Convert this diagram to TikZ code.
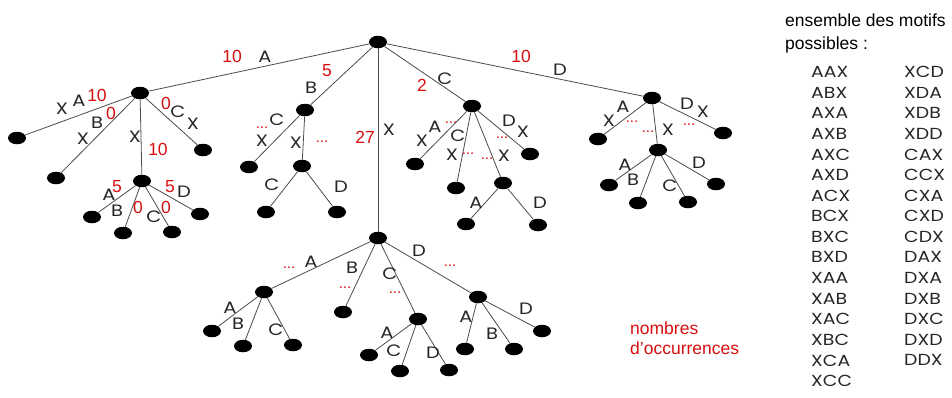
\documentclass[tikz,border=0pt]{standalone}
\usepackage{fontspec}
\setmainfont{Liberation Sans}
\newfontfamily\lettrfam{Poppins}[FakeStretch=1.18]
\usetikzlibrary{shapes.geometric}
\definecolor{occred}{RGB}{215,15,15}
\definecolor{edgegray}{RGB}{75,75,75}
\begin{document}
\begin{tikzpicture}[x=1pt,y=-1pt,
  nd/.style={ellipse, fill=black, minimum width=18pt, minimum height=12.5pt, inner sep=0pt},
  edge/.style={draw=edgegray, line width=0.8pt},
  lt/.style={font=\lettrfam\fontsize{16.5}{16.5}\selectfont, inner sep=0pt, text=black!85},
  nm/.style={font=\fontsize{17.5}{17.5}\selectfont, text=occred, inner sep=0pt},
  dt/.style={font=\fontsize{15}{15}\selectfont, text=occred, inner sep=0pt},
  lst/.style={font=\lettrfam\fontsize{16}{16}\selectfont, inner sep=0pt, anchor=west, text=black!85},
  txt/.style={font=\fontsize{17.5}{17.5}\selectfont, inner sep=0pt, anchor=base west}]
\useasboundingbox (0,0) rectangle (952,397);

% ---------- tree nodes ----------
\node[nd] (r) at (378,42) {};
\node[nd] (a) at (140,93) {};
\node[nd] (b) at (305,110) {};
\node[nd] (x) at (378,238) {};
\node[nd] (c) at (472,106) {};
\node[nd] (d) at (652,98) {};
% under a
\node[nd] (aXA) at (17,138) {};
\node[nd] (aXB) at (56,178) {};
\node[nd] (aX) at (142,181) {};
\node[nd] (aCX) at (203,150) {};
\node[nd] (aXa) at (92,217) {};
\node[nd] (aXb) at (123,233) {};
\node[nd] (aXc) at (172,232) {};
\node[nd] (aXd) at (200,214) {};
% under b
\node[nd] (bCX) at (249,167) {};
\node[nd] (bX) at (302,166) {};
\node[nd] (bXc) at (266,212) {};
\node[nd] (bXd) at (337,212) {};
% under c
\node[nd] (cXA) at (415,164) {};
\node[nd] (cXC) at (456,188) {};
\node[nd] (cX) at (503,183) {};
\node[nd] (cDX) at (530,154) {};
\node[nd] (cXa) at (466,224) {};
\node[nd] (cXd) at (538,225) {};
% under d
\node[nd] (dXA) at (598,139) {};
\node[nd] (dX) at (658,150) {};
\node[nd] (dDX) at (723,133) {};
\node[nd] (dXa) at (609,185) {};
\node[nd] (dXb) at (638,203) {};
\node[nd] (dXc) at (688,202) {};
\node[nd] (dXd) at (716,184) {};
% under x
\node[nd] (xA) at (264,292) {};
\node[nd] (xB) at (343,312) {};
\node[nd] (xC) at (418,319) {};
\node[nd] (xD) at (478,297) {};
\node[nd] (xAa) at (212,331) {};
\node[nd] (xAb) at (243,346) {};
\node[nd] (xAc) at (293,345) {};
\node[nd] (xCa) at (369,355) {};
\node[nd] (xCc) at (400,371) {};
\node[nd] (xCd) at (449,370) {};
\node[nd] (xDa) at (465,349) {};
\node[nd] (xDb) at (514,349) {};
\node[nd] (xDd) at (542,331) {};

% ---------- edges ----------
\foreach \p/\q in {r/a, r/b, r/x, r/c, r/d,
  a/aXA, a/aXB, a/aX, a/aCX, aX/aXa, aX/aXb, aX/aXc, aX/aXd,
  b/bCX, b/bX, bX/bXc, bX/bXd,
  c/cXA, c/cXC, c/cX, c/cDX, cX/cXa, cX/cXd,
  d/dXA, d/dX, d/dDX, dX/dXa, dX/dXb, dX/dXc, dX/dXd,
  x/xA, x/xB, x/xC, x/xD, xA/xAa, xA/xAb, xA/xAc,
  xC/xCa, xC/xCc, xC/xCd, xD/xDa, xD/xDb, xD/xDd}
  \draw[edge] (\p) -- (\q);

% ---------- labels on root edges ----------
\node[nm] (n1) at (232,56) {10};  \node[lt] (l1) at (265,57) {A};
\node[nm] (n2) at (327,71) {5};   \node[lt] (l2) at (311,88) {B};
\node[nm] (n3) at (365,137) {27}; \node[lt] (l3) at (389,130) {X};
\node[nm] (n4) at (422,85) {2};   \node[lt] (l4) at (445,79) {C};
\node[nm] (n5) at (521,56) {10};  \node[lt] (l5) at (560,70) {D};

% ---------- labels under a ----------
\node[lt] (la1) at (62,109) {X}; \node[lt] (la2) at (79,101) {A}; \node[nm] (na1) at (97,95) {10};
\node[lt] (la3) at (97,123) {B}; \node[lt] (la4) at (83,139) {X}; \node[nm] (na2) at (111,113) {0};
\node[lt] (la5) at (135,137) {X}; \node[nm] (na3) at (158,149) {10};
\node[nm] (na4) at (166,103) {0}; \node[lt] (la6) at (178,112) {C}; \node[lt] (la7) at (193,124) {X};
\node[nm] (na5) at (117,187) {5}; \node[lt] (la8) at (109,195) {A};
\node[lt] (la9) at (117,211) {B}; \node[nm] (na6) at (138,207) {0};
\node[lt] (la10) at (154,217) {C}; \node[nm] (na7) at (166,207) {0};
\node[nm] (na8) at (170,187) {5}; \node[lt] (la11) at (184,192) {D};

% ---------- labels under b ----------
\node[lt] (lb1) at (277,120) {C}; \node[dt] (db1) at (262,128) {...}; \node[lt] (lb2) at (262,141) {X};
\node[lt] (lb3) at (296,143) {X}; \node[dt] (db2) at (322,142) {...};
\node[lt] (lb4) at (272,185) {C}; \node[lt] (lb5) at (341,187) {D};

% ---------- labels under c ----------
\node[lt] (lc1) at (435,127) {A}; \node[lt] (lc2) at (422,141) {X}; \node[dt] (dc1) at (451,123) {...};
\node[lt] (lc3) at (458,136) {C}; \node[lt] (lc4) at (452,155) {X}; \node[dt] (dc2) at (468,154) {...};
\node[lt] (lc5) at (504,156) {X}; \node[dt] (dc3) at (487,159) {...};
\node[lt] (lc6) at (509,121) {D}; \node[lt] (lc7) at (523,132) {X}; \node[dt] (dc4) at (502,138) {...};
\node[lt] (lc8) at (476,203) {A}; \node[lt] (lc9) at (540,203) {D};

% ---------- labels under d ----------
\node[lt] (ld1) at (623,107) {A}; \node[lt] (ld2) at (609,121) {X}; \node[dt] (dd1) at (632,122) {...};
\node[lt] (ld3) at (668,130) {X}; \node[dt] (dd2) at (648,132) {...};
\node[lt] (ld4) at (687,104) {D}; \node[lt] (ld5) at (703,112) {X}; \node[dt] (dd3) at (689,125) {...};
\node[lt] (ld6) at (625,165) {A}; \node[lt] (ld7) at (633,180) {B};
\node[lt] (ld8) at (670,186) {C}; \node[lt] (ld9) at (699,163) {D};

% ---------- labels under x ----------
\node[lt] (lx1) at (311,262) {A}; \node[dt] (dx1) at (289,268) {...};
\node[lt] (lx2) at (352,268) {B}; \node[dt] (dx2) at (345,288) {...};
\node[lt] (lx3) at (390,274) {C}; \node[dt] (dx3) at (395,293) {...};
\node[lt] (lx4) at (419,251) {D}; \node[dt] (dx4) at (450,266) {...};
\node[lt] (lx5) at (230,308) {A}; \node[lt] (lx6) at (238,324) {B}; \node[lt] (lx7) at (276,330) {C};
\node[lt] (lx8) at (387,333) {A}; \node[lt] (lx9) at (394,351) {C}; \node[lt] (lx10) at (433,353) {D};
\node[lt] (lx11) at (466,317) {A}; \node[lt] (lx12) at (492,334) {B}; \node[lt] (lx13) at (526,309) {D};

% ---------- legend ----------
\node[txt, text=occred] (occ1) at (630,334) {nombres};
\node[txt, text=occred] (occ2) at (630,354) {d’occurrences};

\node[txt] (ens1) at (785,26) {ensemble des motifs};
\node[txt] (ens2) at (785,49) {possibles :};

\foreach \m [count=\i from 0] in {AAX,ABX,AXA,AXB,AXC,AXD,ACX,BCX,BXC,BXD,XAA,XAB,XAC,XBC,XCA,XCC}
  \node[lst] (m1-\i) at (811,72+20.6*\i) {\m};
\foreach \m [count=\i from 0] in {XCD,XDA,XDB,XDD,CAX,CCX,CXA,CXD,CDX,DAX,DXA,DXB,DXC,DXD,DDX}
  \node[lst] (m2-\i) at (904,72+20.6*\i) {\m};
\end{tikzpicture}
\end{document}
